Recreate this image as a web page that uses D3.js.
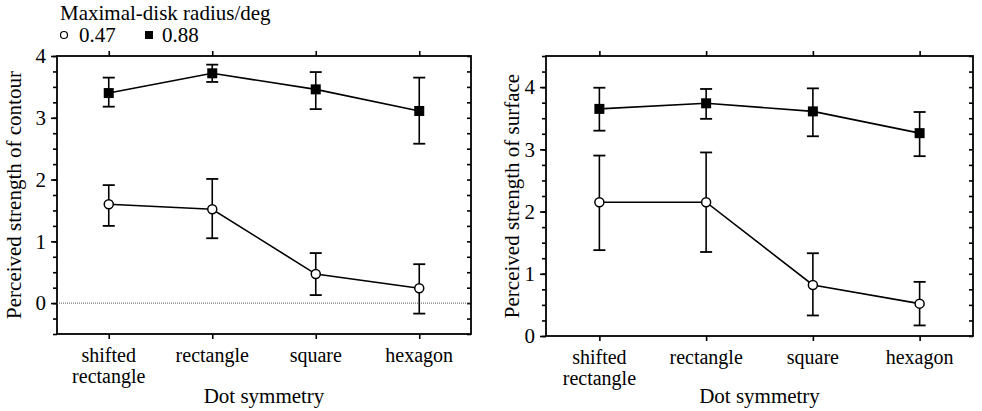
<!DOCTYPE html>
<html>
<head>
<meta charset="utf-8">
<script src="https://cdn.jsdelivr.net/npm/d3@7"></script>
<style>
  body { margin: 0; background: #fff; }
  svg text { font-family: "Liberation Serif", "Times New Roman", Times, "DejaVu Serif", serif !important; fill: #000; }
</style>
</head>
<body>
<svg id="paper"></svg>
<script>
// chart data
let categories = ["shifted rectangle", "rectangle", "square", "hexagon"];
let radii = ["0.47", "0.88"];

// contour panel
let contourSmall = [1.60, 1.52, 0.47, 0.24];
let contourSmallLo = [1.25, 1.05, 0.13, -0.17];
let contourSmallHi = [1.91, 2.01, 0.81, 0.63];
let contourLarge = [3.40, 3.72, 3.46, 3.11];
let contourLargeLo = [3.18, 3.58, 3.14, 2.58];
let contourLargeHi = [3.65, 3.86, 3.74, 3.65];

// surface panel
let surfaceSmall = [2.15, 2.15, 0.82, 0.52];
let surfaceSmallLo = [1.38, 1.35, 0.33, 0.17];
let surfaceSmallHi = [2.90, 2.95, 1.33, 0.87];
let surfaceLarge = [3.65, 3.74, 3.61, 3.26];
let surfaceLargeLo = [3.30, 3.49, 3.21, 2.89];
let surfaceLargeHi = [3.99, 3.97, 3.98, 3.60];

let yTicksContour = [0, 1, 2, 3, 4];
let yTicksSurface = [0, 1, 2, 3, 4];

let width = 982, height = 411;
let serif = "'Liberation Serif', 'Times New Roman', Times, serif";

let svg = d3.select("#paper").attr("width", width).attr("height", height)
    .attr("font-family", serif);

function rows(mean, lo, hi) {
    return mean.map((m, i) => ({cat: categories[i], m: m, lo: lo[i], hi: hi[i]}));
}

function drawPanel(cfg) {
    let g = svg.append("g");
    let x = d3.scalePoint().domain(categories).range([cfg.left, cfg.right]).padding(0.5);
    let y = d3.scaleLinear().domain(cfg.domain).range([cfg.bottom, cfg.top]);

    let quarters = d3.range(cfg.domain[0], cfg.domain[1] + 0.001, 0.25);

    // minor ticks on the left axis
    g.append("g")
        .attr("transform", "translate(" + cfg.left + ",0)")
        .call(d3.axisLeft(y).tickValues(quarters).tickSize(4).tickSizeOuter(0).tickFormat(""))
        .call(a => a.select(".domain").remove());

    // major ticks with labels
    g.append("g")
        .attr("transform", "translate(" + cfg.left + ",0)")
        .call(d3.axisLeft(y).tickValues(cfg.ticks).tickSize(6).tickSizeOuter(0).tickPadding(5).tickFormat(d3.format("d")))
        .call(a => a.select(".domain").remove())
        .call(a => a.attr("font-family", serif))
        .call(a => a.selectAll("text").style("font-size", "21px"));

    // right axis, ticks pointing in
    g.append("g")
        .attr("transform", "translate(" + cfg.right + ",0)")
        .call(d3.axisLeft(y).tickValues(quarters).tickSize(4).tickSizeOuter(0).tickFormat(""))
        .call(a => a.select(".domain").remove());

    // top axis
    g.append("g")
        .attr("transform", "translate(0," + cfg.top + ")")
        .call(d3.axisTop(x).tickSize(5).tickSizeOuter(0).tickFormat(""))
        .call(a => a.select(".domain").remove());

    // bottom axis
    g.append("g")
        .attr("transform", "translate(0," + cfg.bottom + ")")
        .call(d3.axisBottom(x).tickSize(5).tickSizeOuter(0).tickFormat(""))
        .call(a => a.select(".domain").remove());

    g.selectAll(".tick line").attr("stroke", "#000").attr("stroke-width", 1.6);

    // frame
    g.append("rect")
        .attr("x", cfg.left).attr("y", cfg.top)
        .attr("width", cfg.right - cfg.left).attr("height", cfg.bottom - cfg.top)
        .attr("fill", "none").attr("stroke", "#000").attr("stroke-width", 1.8);

    // category labels (two lines for the first)
    categories.forEach(function (c) {
        let words = c === "shifted rectangle" ? ["shifted", "rectangle"] : [c];
        words.forEach(function (w, i) {
            g.append("text")
                .attr("x", x(c)).attr("y", cfg.bottom + 28 + i * 21)
                .attr("text-anchor", "middle").style("font-size", "20px")
                .text(w);
        });
    });

    g.append("text")
        .attr("x", (cfg.left + cfg.right) / 2).attr("y", 403)
        .attr("text-anchor", "middle").style("font-size", "21px")
        .text("Dot symmetry");

    g.append("text")
        .attr("transform", "translate(" + cfg.titleX + "," + ((cfg.top + cfg.bottom) / 2) + ") rotate(-90)")
        .attr("text-anchor", "middle").style("font-size", "21px")
        .text(cfg.title);

    if (cfg.zeroLine) {
        g.append("line")
            .attr("x1", cfg.left).attr("x2", cfg.right)
            .attr("y1", y(0)).attr("y2", y(0))
            .attr("stroke", "#555").attr("stroke-width", 1)
            .attr("stroke-dasharray", "1,1");
    }

    let line = d3.line().x(d => x(d.cat)).y(d => y(d.m));

    [cfg.small, cfg.large].forEach(function (s, k) {
        g.append("path")
            .datum(s)
            .attr("d", line)
            .attr("fill", "none")
            .attr("stroke", "#000")
            .attr("stroke-width", 1.6);

        let eb = g.append("g").selectAll("g")
            .data(s).enter().append("g");
        eb.append("line")
            .attr("x1", d => x(d.cat)).attr("x2", d => x(d.cat))
            .attr("y1", d => y(d.lo)).attr("y2", d => y(d.hi))
            .attr("stroke", "#000").attr("stroke-width", 1.6);
        eb.append("line")
            .attr("x1", d => x(d.cat) - 6).attr("x2", d => x(d.cat) + 6)
            .attr("y1", d => y(d.hi)).attr("y2", d => y(d.hi))
            .attr("stroke", "#000").attr("stroke-width", 1.8);
        eb.append("line")
            .attr("x1", d => x(d.cat) - 6).attr("x2", d => x(d.cat) + 6)
            .attr("y1", d => y(d.lo)).attr("y2", d => y(d.lo))
            .attr("stroke", "#000").attr("stroke-width", 1.8);

        if (k === 0) {
            g.append("g").selectAll("circle")
                .data(s).enter().append("circle")
                .attr("cx", d => x(d.cat)).attr("cy", d => y(d.m))
                .attr("r", 4.5)
                .attr("fill", "#fff").attr("stroke", "#000").attr("stroke-width", 1.5);
        } else {
            g.append("g").selectAll("rect")
                .data(s).enter().append("rect")
                .attr("x", d => x(d.cat) - 5).attr("y", d => y(d.m) - 5)
                .attr("width", 10).attr("height", 10)
                .attr("fill", "#000");
        }
    });
}

drawPanel({
    left: 57, right: 471, top: 56, bottom: 334,
    domain: [-0.5, 4], ticks: yTicksContour,
    title: "Perceived strength of contour", titleX: 21,
    zeroLine: true,
    small: rows(contourSmall, contourSmallLo, contourSmallHi),
    large: rows(contourLarge, contourLargeLo, contourLargeHi)
});

drawPanel({
    left: 546, right: 973, top: 56, bottom: 336,
    domain: [0, 4.5], ticks: yTicksSurface,
    title: "Perceived strength of surface", titleX: 519,
    zeroLine: false,
    small: rows(surfaceSmall, surfaceSmallLo, surfaceSmallHi),
    large: rows(surfaceLarge, surfaceLargeLo, surfaceLargeHi)
});

// legend
let legend = svg.append("g");
legend.append("text")
    .attr("x", 60).attr("y", 20)
    .style("font-size", "21px")
    .text("Maximal-disk radius/deg");
legend.append("circle")
    .attr("cx", 64).attr("cy", 35).attr("r", 3.5)
    .attr("fill", "#fff").attr("stroke", "#000").attr("stroke-width", 1.2);
legend.append("text")
    .attr("x", 79).attr("y", 42).style("font-size", "21px").text(radii[0]);
legend.append("rect")
    .attr("x", 145).attr("y", 31).attr("width", 8).attr("height", 8).attr("fill", "#000");
legend.append("text")
    .attr("x", 162).attr("y", 42).style("font-size", "21px").text(radii[1]);
</script>
</body>
</html>
